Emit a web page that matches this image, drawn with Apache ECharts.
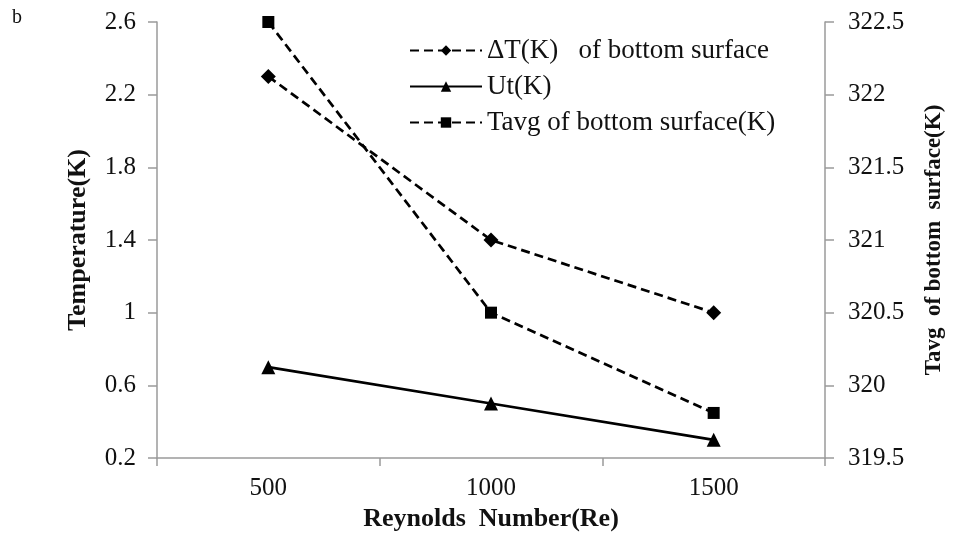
<!DOCTYPE html>
<html>
<head>
<meta charset="utf-8">
<script src="https://cdn.jsdelivr.net/npm/echarts@6/dist/echarts.min.js"></script>
<style>
html,body{margin:0;padding:0;background:#fff;}
#c{width:954px;height:544px;}
</style>
</head>
<body>
<div id="c"></div>
<script>
const categories = ['500', '1000', '1500'];
const deltaT = [2.3, 1.4, 1.0];
const ut = [0.7, 0.5, 0.3];
const tavg = [322.5, 320.5, 319.81];
const seriesNames = ['\u0394T(K)   of bottom surface', 'Ut(K)', 'Tavg of bottom surface(K)'];

const FONT = '"Liberation Serif", "Times New Roman", serif';
const axisGray = '#9a9a9a';
const dash = [9, 5];

const chart = echarts.init(document.getElementById('c'), null, {renderer: 'canvas'});
chart.setOption({
  backgroundColor: '#fff',
  animation: false,
  textStyle: {fontFamily: FONT, color: '#111'},
  title: {
    text: 'b', left: 7, top: 3,
    textStyle: {fontFamily: FONT, fontSize: 20, fontWeight: 'normal', color: '#111'}
  },
  grid: {left: 157, right: 125, top: 22, bottom: 86, containLabel: false},
  legend: {
    orient: 'vertical', left: 404, top: 32,
    itemWidth: 72, itemHeight: 13, itemGap: 9,
    textStyle: {fontFamily: FONT, fontSize: 27, color: '#111', padding: [0, 0, 0, 0]},
    data: seriesNames
  },
  xAxis: {
    type: 'category', data: categories, boundaryGap: true,
    name: 'Reynolds  Number(Re)', nameLocation: 'middle', nameGap: 45,
    nameTextStyle: {fontFamily: FONT, fontSize: 26, fontWeight: 'bold', color: '#111'},
    axisLine: {lineStyle: {color: axisGray, width: 1.5}},
    axisTick: {show: true, length: 8, alignWithLabel: false, lineStyle: {color: axisGray, width: 1.5}},
    axisLabel: {fontFamily: FONT, fontSize: 25, color: '#111', margin: 18},
    splitLine: {show: false}
  },
  yAxis: [{
    type: 'value', position: 'left', min: 0.2, max: 2.6, interval: 0.4,
    name: 'Temperature(K)', nameLocation: 'middle', nameGap: 66, nameRotate: 90,
    nameTextStyle: {fontFamily: FONT, fontSize: 26, fontWeight: 'bold', color: '#111'},
    axisLine: {show: true, lineStyle: {color: axisGray, width: 1.5}},
    axisTick: {show: true, length: 9, lineStyle: {color: axisGray, width: 1.5}},
    axisLabel: {fontFamily: FONT, fontSize: 25, color: '#111', margin: 21},
    splitLine: {show: false}
  }, {
    type: 'value', position: 'right', min: 319.5, max: 322.5, interval: 0.5,
    name: 'Tavg  of bottom  surface(K)', nameLocation: 'middle', nameGap: 98, nameRotate: 90,
    nameTextStyle: {fontFamily: FONT, fontSize: 23, fontWeight: 'bold', color: '#111'},
    axisLine: {show: true, lineStyle: {color: axisGray, width: 1.5}},
    axisTick: {show: true, length: 9, lineStyle: {color: axisGray, width: 1.5}},
    axisLabel: {fontFamily: FONT, fontSize: 25, color: '#111', margin: 23},
    splitLine: {show: false}
  }],
  series: [{
    name: seriesNames[0], type: 'line', yAxisIndex: 0, data: deltaT,
    symbol: 'diamond', symbolSize: 15,
    lineStyle: {color: '#000', width: 2.7, type: dash},
    itemStyle: {color: '#000'}
  }, {
    name: seriesNames[1], type: 'line', yAxisIndex: 0, data: ut,
    symbol: 'triangle', symbolSize: 14,
    lineStyle: {color: '#000', width: 2.7, type: 'solid'},
    itemStyle: {color: '#000'}
  }, {
    name: seriesNames[2], type: 'line', yAxisIndex: 1, data: tavg,
    symbol: 'rect', symbolSize: 12,
    lineStyle: {color: '#000', width: 2.7, type: dash},
    itemStyle: {color: '#000'}
  }]
});
</script>
</body>
</html>
